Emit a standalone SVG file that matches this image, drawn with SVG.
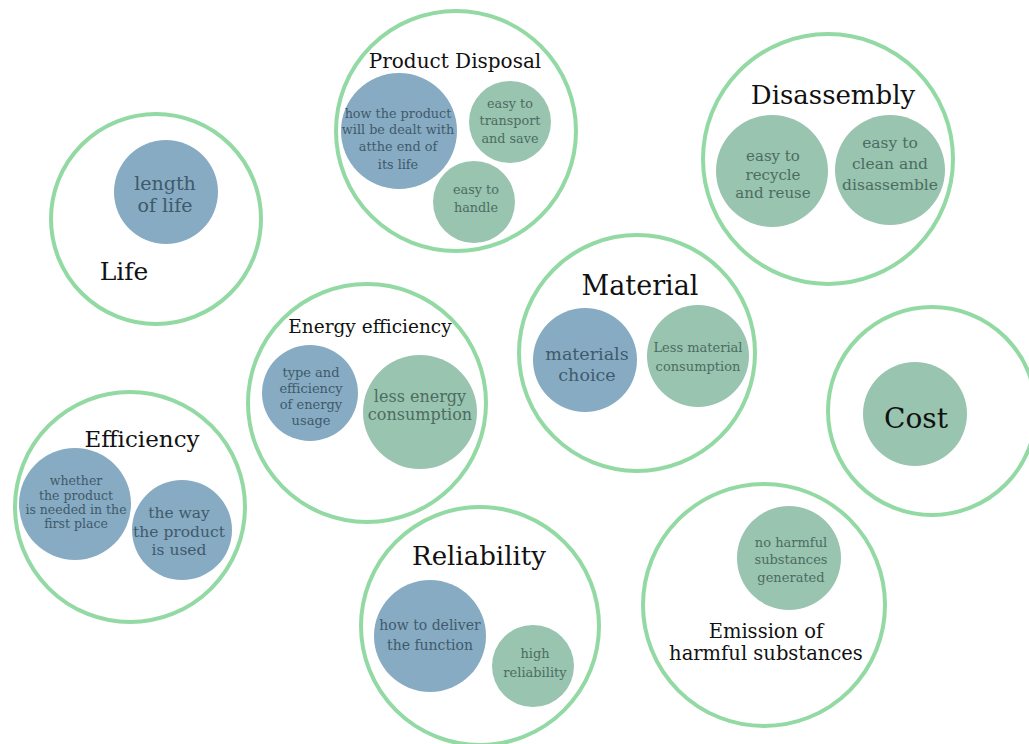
<svg xmlns="http://www.w3.org/2000/svg" width="1029" height="744" viewBox="0 0 1029 744">
<style>
.ring{fill:#fff;stroke:#93d9a4;stroke-width:4}
.b{fill:#87abc2}
.g{fill:#98c4b0}
text{font-family:"DejaVu Serif","Liberation Serif",serif;text-anchor:middle}
.t{fill:#111}
.tb{fill:#3f5a6c}
.tg{fill:#4d6c60}
</style>
<rect width="1029" height="744" fill="#fff"/>
<g id="connectors"/>
<g id="product-disposal">
<circle class="ring" cx="456" cy="131" r="120"/>
<circle class="b" cx="399" cy="131" r="58"/>
<circle class="g" cx="510" cy="122" r="41"/>
<circle class="g" cx="474" cy="202" r="41"/>
<text class="t" x="455" y="68" font-size="20">Product Disposal</text>
<text class="tb" font-size="12.8"><tspan x="398" y="118">how the product</tspan><tspan x="398" y="134">will be dealt with</tspan><tspan x="398" y="151">atthe end of</tspan><tspan x="398" y="169">its life</tspan></text>
<text class="tg" font-size="12.8"><tspan x="510" y="108">easy to</tspan><tspan x="510" y="125">transport</tspan><tspan x="510" y="143">and save</tspan></text>
<text class="tg" font-size="12.8"><tspan x="476" y="194">easy to</tspan><tspan x="476" y="212">handle</tspan></text>
</g>
<g id="life">
<circle class="ring" cx="156" cy="219" r="105"/>
<circle class="b" cx="166" cy="192" r="52"/>
<text class="tb" font-size="19"><tspan x="165" y="190">length</tspan><tspan x="165" y="212">of life</tspan></text>
<text class="t" x="124" y="280" font-size="25">Life</text>
</g>
<g id="disassembly">
<circle class="ring" cx="828" cy="159" r="125"/>
<circle class="g" cx="772" cy="171" r="56"/>
<circle class="g" cx="890" cy="170" r="55"/>
<text class="t" x="833" y="104" font-size="26">Disassembly</text>
<text class="tg" font-size="15"><tspan x="773" y="161">easy to</tspan><tspan x="773" y="180">recycle</tspan><tspan x="773" y="198">and reuse</tspan></text>
<text class="tg" font-size="15.5"><tspan x="890" y="148">easy to</tspan><tspan x="890" y="169">clean and</tspan><tspan x="890" y="190">disassemble</tspan></text>
</g>
<g id="energy-efficiency">
<circle class="ring" cx="367" cy="403" r="119"/>
<circle class="b" cx="310" cy="393" r="48"/>
<circle class="g" cx="420" cy="412" r="57"/>
<text class="t" x="370" y="333" font-size="18.5">Energy efficiency</text>
<text class="tb" font-size="13"><tspan x="311" y="377">type and</tspan><tspan x="311" y="393">efficiency</tspan><tspan x="311" y="409">of energy</tspan><tspan x="311" y="425">usage</tspan></text>
<text class="tg" font-size="16"><tspan x="420" y="402">less energy</tspan><tspan x="420" y="420">consumption</tspan></text>
</g>
<g id="material">
<circle class="ring" cx="637" cy="353" r="118"/>
<circle class="b" cx="585" cy="360" r="52"/>
<circle class="g" cx="698" cy="356" r="51"/>
<text class="t" x="640" y="295" font-size="27">Material</text>
<text class="tb" font-size="17.5"><tspan x="587" y="360">materials</tspan><tspan x="587" y="381">choice</tspan></text>
<text class="tg" font-size="13"><tspan x="698" y="352">Less material</tspan><tspan x="698" y="371">consumption</tspan></text>
</g>
<g id="cost">
<circle class="ring" cx="932" cy="411" r="104"/>
<circle class="g" cx="915" cy="414" r="52"/>
<text class="t" x="916" y="428" font-size="28">Cost</text>
</g>
<g id="efficiency">
<circle class="ring" cx="130" cy="507" r="115"/>
<circle class="b" cx="75" cy="504" r="56"/>
<circle class="b" cx="182" cy="530" r="50"/>
<text class="t" x="142" y="447" font-size="23">Efficiency</text>
<text class="tb" font-size="12.5"><tspan x="76" y="485">whether</tspan><tspan x="76" y="500">the product</tspan><tspan x="76" y="514">is needed in the</tspan><tspan x="76" y="528">first place</tspan></text>
<text class="tb" font-size="15.5"><tspan x="179" y="518">the way</tspan><tspan x="179" y="537">the product</tspan><tspan x="179" y="555">is used</tspan></text>
</g>
<g id="reliability">
<circle class="ring" cx="480" cy="626" r="119"/>
<circle class="b" cx="430" cy="636" r="56"/>
<circle class="g" cx="533" cy="666" r="41"/>
<text class="t" x="479" y="565" font-size="26">Reliability</text>
<text class="tb" font-size="14"><tspan x="430" y="630">how to deliver</tspan><tspan x="430" y="650">the function</tspan></text>
<text class="tg" font-size="13"><tspan x="535" y="658">high</tspan><tspan x="535" y="677">reliability</tspan></text>
</g>
<g id="emission">
<circle class="ring" cx="764" cy="605" r="121"/>
<circle class="g" cx="789" cy="558" r="52"/>
<text class="tg" font-size="13"><tspan x="791" y="547">no harmful</tspan><tspan x="791" y="564">substances</tspan><tspan x="791" y="582">generated</tspan></text>
<text class="t" font-size="19.5"><tspan x="766" y="638">Emission of</tspan><tspan x="766" y="660">harmful substances</tspan></text>
</g>
</svg>
